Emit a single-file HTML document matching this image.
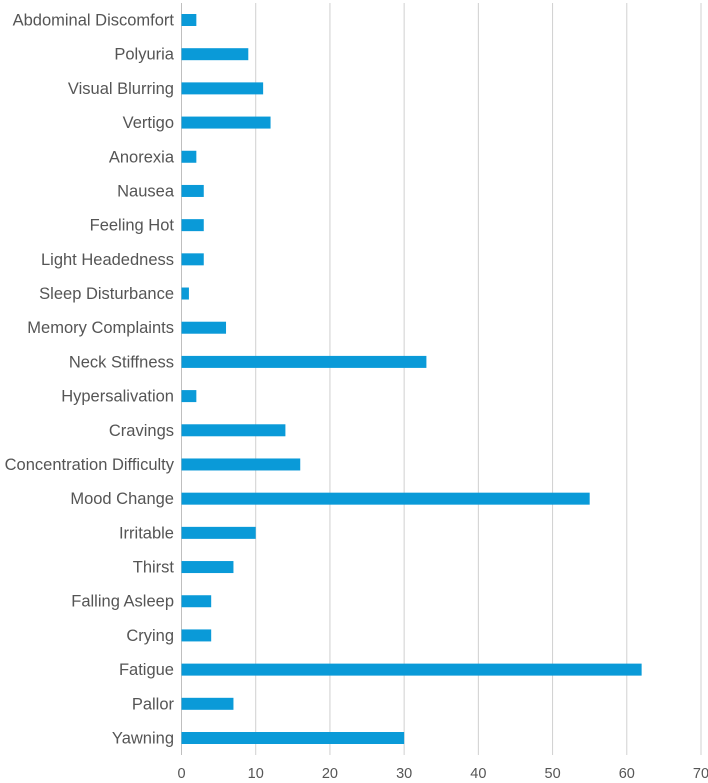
<!DOCTYPE html>
<html><head><meta charset="utf-8"><style>
body{margin:0;background:#fff;font-family:"Liberation Sans",Arial,sans-serif}
svg{display:block}
</style></head><body>
<svg id="chart" width="708" height="783" xmlns="http://www.w3.org/2000/svg"></svg>
<script>
const categories=["Abdominal Discomfort","Polyuria","Visual Blurring","Vertigo","Anorexia","Nausea","Feeling Hot","Light Headedness","Sleep Disturbance","Memory Complaints","Neck Stiffness","Hypersalivation","Cravings","Concentration Difficulty","Mood Change","Irritable","Thirst","Falling Asleep","Crying","Fatigue","Pallor","Yawning"];
const values=[2,9,11,12,2,3,3,3,1,6,33,2,14,16,55,10,7,4,4,62,7,30];
const ticks=[0,10,20,30,40,50,60,70];
const NS="http://www.w3.org/2000/svg";
const svg=document.getElementById('chart');
const x0=181.5,x1=701,y0=20,y1=738,xmax=70;
const xs=v=>x0+(x1-x0)*v/xmax;
const ys=i=>y0+(y1-y0)*i/(categories.length-1);
function mk(t,a){const e=document.createElementNS(NS,t);for(const k in a)e.setAttribute(k,a[k]);svg.appendChild(e);return e;}
ticks.forEach(t=>{
 if(t>0){const g=mk('line',{x1:xs(t),x2:xs(t),y1:3,y2:755,stroke:'#d0d0d0','stroke-width':1});
 
 }
 const l=mk('text',{x:xs(t),y:778,'text-anchor':'middle','font-size':14.5,fill:'#555'});
 l.textContent=t;
 
 
});
const ax=mk('line',{x1:x0,x2:x0,y1:3,y2:755,stroke:'#bfbfbf','stroke-width':1});


categories.forEach((c,i)=>{
 const y=ys(i);
 const b=mk('rect',{x:x0,y:y-6,width:xs(values[i])-x0,height:12,fill:'#0a9ad8'});
 
 
 const t=mk('text',{x:174,y:y+5.5,'text-anchor':'end','font-size':16.5,fill:'#555'});
 t.textContent=c;
 
 
});
</script>
</body></html>
